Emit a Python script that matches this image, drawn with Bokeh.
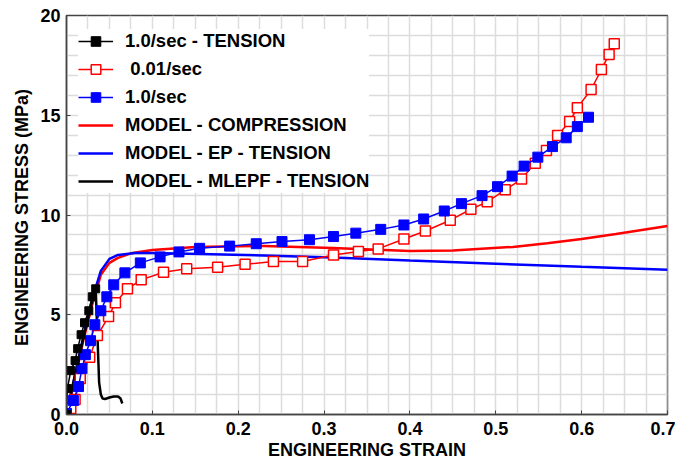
import numpy as np
from bokeh.plotting import figure
from bokeh.models import FixedTicker, Legend, LegendItem, Range1d
from bokeh.embed import file_html
from bokeh.resources import INLINE

# ---- data ----
black_strain = [0.0, 0.001, 0.005, 0.010, 0.013, 0.017, 0.021, 0.026, 0.030, 0.034]
black_stress = [0.0, 1.3, 2.2, 2.7, 3.3, 4.0, 4.6, 5.2, 5.9, 6.3]

red_strain = [0.0, 0.005, 0.010, 0.016, 0.027, 0.036, 0.049, 0.057, 0.071, 0.087,
              0.113, 0.140, 0.176, 0.208, 0.241, 0.275, 0.311, 0.340, 0.363, 0.393,
              0.418, 0.447, 0.471, 0.490, 0.511, 0.530, 0.546, 0.559, 0.572, 0.586,
              0.595, 0.611, 0.623, 0.632, 0.638]
red_stress = [0.0, 0.3, 0.75, 1.8, 2.87, 3.96, 4.91, 5.6, 6.3, 6.75,
              7.13, 7.3, 7.38, 7.53, 7.67, 7.67, 8.0, 8.17, 8.3, 8.8,
              9.2, 9.74, 10.29, 10.66, 11.26, 11.8, 12.6, 13.23, 13.98, 14.69,
              15.37, 16.29, 17.29, 18.05, 18.58]

blue_strain = [0.0, 0.008, 0.014, 0.018, 0.022, 0.028, 0.033, 0.040, 0.047, 0.055,
               0.068, 0.086, 0.109, 0.131, 0.155, 0.190, 0.221, 0.251, 0.283, 0.311,
               0.337, 0.366, 0.393, 0.416, 0.440, 0.460, 0.484, 0.502, 0.519, 0.533,
               0.549, 0.566, 0.582, 0.595, 0.608]
blue_stress = [0.05, 0.7, 1.4, 2.3, 3.0, 3.7, 4.5, 5.2, 5.9, 6.5,
               7.1, 7.6, 7.9, 8.15, 8.33, 8.44, 8.56, 8.67, 8.76, 8.92,
               9.09, 9.28, 9.5, 9.8, 10.2, 10.57, 10.97, 11.42, 11.95, 12.45,
               12.9, 13.43, 13.87, 14.43, 14.9]

comp_strain = [0.0, 0.01, 0.02, 0.03, 0.04, 0.05, 0.06, 0.075, 0.10, 0.15,
               0.23, 0.31, 0.40, 0.45, 0.52, 0.56, 0.60, 0.64, 0.70]
comp_stress = [0.0, 1.8, 3.8, 5.5, 7.0, 7.6, 7.85, 8.08, 8.25, 8.4,
               8.45, 8.35, 8.2, 8.22, 8.4, 8.58, 8.8, 9.05, 9.45]

ep_strain = [0.0, 0.01, 0.02, 0.03, 0.04, 0.05, 0.06, 0.08, 0.10, 0.156,
             0.23, 0.31, 0.40, 0.50, 0.60, 0.70]
ep_stress = [0.0, 2.0, 4.0, 5.8, 7.2, 7.8, 8.0, 8.1, 8.1, 8.05,
             7.97, 7.87, 7.72, 7.56, 7.4, 7.25]

mlepf_strain = [0.0, 0.01, 0.02, 0.03, 0.034, 0.036, 0.038, 0.040, 0.042, 0.045,
                0.050, 0.055, 0.060, 0.063, 0.065]
mlepf_stress = [0.0, 2.0, 3.9, 5.7, 6.3, 4.0, 1.6, 1.0, 0.8, 0.78,
                0.85, 0.9, 0.9, 0.8, 0.55]

x_ticks = [0.0, 0.1, 0.2, 0.3, 0.4, 0.5, 0.6, 0.7]
x_tick_labels = ["0.0", "0.1", "0.2", "0.3", "0.4", "0.5", "0.6", "0.7"]
y_ticks = [0, 5, 10, 15, 20]

FONT = "Liberation Sans"

p = figure(width=675, height=463, output_backend="svg", toolbar_location=None,
           x_range=Range1d(0, 0.7), y_range=Range1d(0, 20),
           min_border_left=66, min_border_right=8, min_border_top=15, min_border_bottom=49)

p.background_fill_color = "white"
p.outline_line_color = "#444444"
p.outline_line_width = 1.5

# grid
p.xgrid.ticker = FixedTicker(ticks=[i * 0.025 for i in range(29)])
p.ygrid.ticker = FixedTicker(ticks=list(range(21)))
for g in (p.xgrid, p.ygrid):
    g.grid_line_color = "#dcdcdc"
    g.grid_line_width = 1.5

# axes
p.xaxis.ticker = FixedTicker(ticks=x_ticks)
p.xaxis.major_label_overrides = {t: l for t, l in zip(x_ticks, x_tick_labels)}
p.yaxis.ticker = FixedTicker(ticks=y_ticks)
for ax in (p.xaxis[0], p.yaxis[0]):
    ax.axis_line_color = "#444444"
    ax.axis_line_width = 1.5
    ax.major_tick_in = 4
    ax.major_tick_out = 0
    ax.minor_tick_in = 0
    ax.minor_tick_out = 0
    ax.major_tick_line_color = "#444444"
    ax.major_label_text_font = FONT
    ax.major_label_text_font_style = "bold"
    ax.major_label_text_font_size = "18px"
    ax.major_label_text_color = "black"
    ax.axis_label_text_font = FONT
    ax.axis_label_text_font_style = "bold"
    ax.axis_label_text_font_size = "18px"
    ax.axis_label_text_color = "black"
p.xaxis.axis_label = "ENGINEERING STRAIN"
p.yaxis.axis_label = "ENGINEERING STRESS  (MPa)"
p.xaxis.major_label_standoff = 7
p.yaxis.major_label_standoff = 6
p.xaxis.axis_label_standoff = 2
p.yaxis.axis_label_standoff = 5

# model lines
r_comp = p.line(comp_strain, comp_stress, line_color="#ff0000", line_width=2.5)
r_ep = p.line(ep_strain, ep_stress, line_color="#0000ff", line_width=2.5)
r_ml = p.line(mlepf_strain, mlepf_stress, line_color="black", line_width=2.5)

# data series
rl_red = p.line(red_strain, red_stress, line_color="#ff0000", line_width=1.5)
rs_red = p.scatter(red_strain, red_stress, marker="square", size=10,
                   fill_color="white", line_color="#ff0000", line_width=1.5)
rl_blue = p.line(blue_strain, blue_stress, line_color="#0000ff", line_width=1.5)
rs_blue = p.scatter(blue_strain, blue_stress, marker="square", size=10,
                    fill_color="#0000ff", line_color="#0000ff")
rl_black = p.line(black_strain, black_stress, line_color="black", line_width=1.5)
rs_black = p.scatter(black_strain, black_stress, marker="square", size=8,
                     fill_color="black", line_color="black")

legend = Legend(items=[
    LegendItem(label="1.0/sec - TENSION", renderers=[rl_black, rs_black]),
    LegendItem(label=" 0.01/sec", renderers=[rl_red, rs_red]),
    LegendItem(label="1.0/sec", renderers=[rl_blue, rs_blue]),
    LegendItem(label="MODEL - COMPRESSION", renderers=[r_comp]),
    LegendItem(label="MODEL - EP - TENSION", renderers=[r_ep]),
    LegendItem(label="MODEL - MLEPF - TENSION", renderers=[r_ml]),
], location=(12, 221))
legend.background_fill_color = "white"
legend.background_fill_alpha = 1.0
legend.border_line_color = None
legend.label_text_font = FONT
legend.label_text_font_style = "bold"
legend.label_text_font_size = "18.5px"
legend.label_text_color = "black"
legend.glyph_width = 35
legend.glyph_height = 24
legend.label_height = 24
legend.label_standoff = 12
legend.spacing = 4
legend.padding = 9
legend.margin = 0
p.add_layout(legend, "center")

open("out.html", "w").write(file_html(p, INLINE))
